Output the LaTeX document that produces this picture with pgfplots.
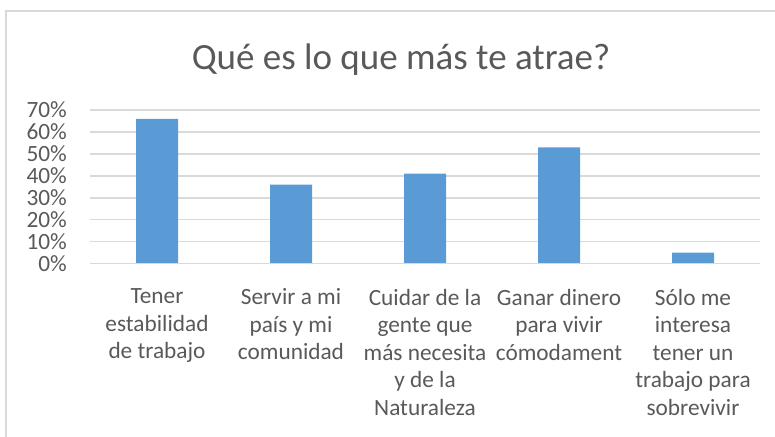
\documentclass[border=0pt]{standalone}
\usepackage{pgfplots}
\pgfplotsset{compat=1.18}
\usepackage{fontspec}
\setmainfont{Carlito}
\definecolor{txt}{HTML}{595959}
\definecolor{bar}{HTML}{5B9BD5}
\definecolor{grd}{HTML}{D9D9D9}
\begin{document}
\begin{tikzpicture}
\useasboundingbox (0,0) rectangle (775bp,437bp);
\draw[grd, line width=1.2bp] (6bp,-5bp) -- (6bp,426bp) -- (780bp,426bp);
\node[anchor=base, text=txt, font=\fontsize{37bp}{44bp}\selectfont, inner sep=0pt] at (401bp,367bp) {Qué es lo que más te atrae?};
\begin{axis}[
  at={(90bp,173.3bp)}, anchor=south west,
  scale only axis, width=670bp, height=153.7bp,
  xmin=-0.5, xmax=4.5, ymin=0, ymax=70,
  axis line style={draw=none},
  ymajorgrids, grid style={grd, line width=1.4bp},
  major tick length=0pt,
  ytick={0,10,20,30,40,50,60,70},
  yticklabels={0\%,10\%,20\%,30\%,40\%,50\%,60\%,70\%},
  yticklabel style={anchor=east, inner sep=0pt, xshift=-23bp, text=txt, font=\fontsize{23.3bp}{27.5bp}\selectfont},
  xtick={0,1,2,3,4},
  xticklabels={
    {Tener\\estabilidad\\de trabajo},
    {Servir a mi\\país y mi\\comunidad},
    {Cuidar de la\\gente que\\más necesita\\y de la\\Naturaleza},
    {Ganar dinero\\para vivir\\cómodament},
    {Sólo me\\interesa\\tener un\\trabajo para\\sobrevivir}},
  xticklabel style={anchor=north, inner sep=0pt, align=center, yshift=-25bp, text=txt, font=\fontsize{23.3bp}{27.5bp}\selectfont},
  clip=false,
]
\addplot[ybar, bar width=42bp, fill=bar, draw=none] coordinates {(0,66) (1,36) (2,41) (3,53) (4,5)};
\draw[grd, line width=1.4bp] (axis cs:-0.5,0) -- (axis cs:4.5,0);
\end{axis}
\end{tikzpicture}
\end{document}
